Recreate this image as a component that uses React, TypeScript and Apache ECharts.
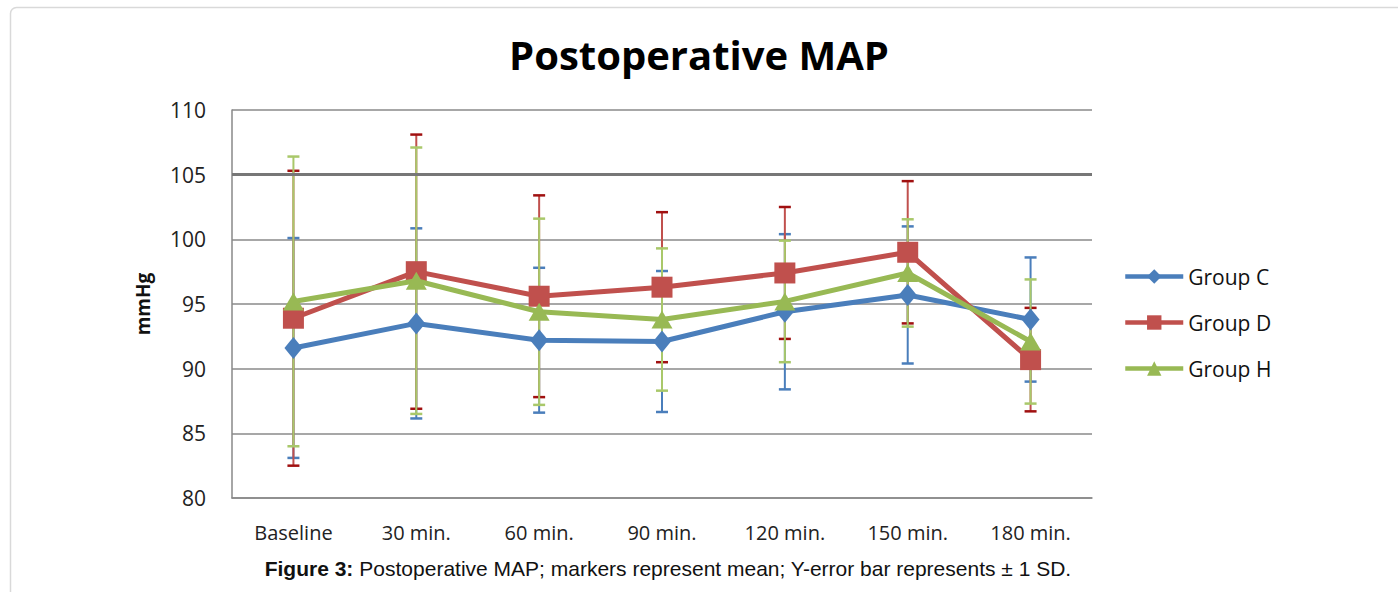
import React, { useEffect, useRef } from "react";
import * as echarts from "echarts";

const categories = ["Baseline", "30 min.", "60 min.", "90 min.", "120 min.", "150 min.", "180 min."];
const yTicks = { min: 80, max: 110, interval: 5 };

const groupNames = ["Group C", "Group D", "Group H"];
const groupC = [91.6, 93.5, 92.2, 92.1, 94.4, 95.7, 93.8];
const groupD = [93.9, 97.5, 95.6, 96.3, 97.4, 99.0, 90.7];
const groupH = [95.2, 96.8, 94.4, 93.8, 95.2, 97.4, 92.1];

const sdC = [8.5, 7.35, 5.6, 5.45, 6.0, 5.3, 4.8];
const sdD = [11.4, 10.6, 7.8, 5.8, 5.1, 5.5, 4.0];
const sdH = [11.2, 10.3, 7.2, 5.5, 4.7, 4.15, 4.8];

const captionBold = "Figure 3:";
const captionText = " Postoperative MAP; markers represent mean; Y-error bar represents ± 1 SD.";

const FONT = "'Open Sans', 'Noto Sans', sans-serif";

function errData(mean: number[], sd: number[]) {
  return mean.map((m, i) => [i, m - sd[i], m + sd[i]]);
}

function errSeries(name: string, mean: number[], sd: number[], color: string, capColor: string, z: number) {
  return {
    name,
    type: "custom",
    z,
    silent: true,
    encode: { x: 0, y: [1, 2] },
    data: errData(mean, sd),
    renderItem: (params: any, api: any) => {
      const x = api.value(0);
      const top = api.coord([x, api.value(2)]);
      const bot = api.coord([x, api.value(1)]);
      const hw = 6;
      return {
        type: "group",
        children: [
          { type: "line", shape: { x1: top[0], y1: top[1], x2: bot[0], y2: bot[1] }, style: { stroke: color, lineWidth: 2 } },
          { type: "line", shape: { x1: top[0] - hw, y1: top[1], x2: top[0] + hw, y2: top[1] }, style: { stroke: capColor, lineWidth: 2.5 } },
          { type: "line", shape: { x1: bot[0] - hw, y1: bot[1], x2: bot[0] + hw, y2: bot[1] }, style: { stroke: capColor, lineWidth: 2.5 } },
        ],
      };
    },
  };
}

export default function App() {
  const ref = useRef<HTMLDivElement>(null);
  useEffect(() => {
    if (!ref.current) return;
    const chart = echarts.init(ref.current, undefined, { renderer: "svg" });
    const blue = "#4A7EBB";
    const red = "#C0504D";
    const green = "#98B954";
    chart.setOption({
      animation: false,
      backgroundColor: "#ffffff",
      title: {
        text: "Postoperative MAP",
        left: "center",
        top: 29,
        textStyle: { fontFamily: FONT, fontWeight: "bold", fontSize: 40, color: "#000" },
      },
      legend: {
        data: groupNames,
        orient: "vertical",
        left: 1118,
        top: 261,
        itemGap: 25,
        itemWidth: 58,
        itemHeight: 18,
        lineStyle: { width: 4.5 },
        textStyle: { fontFamily: FONT, fontSize: 21, color: "#111" },
      },
      grid: { left: 232, right: 306, top: 110, bottom: 94, containLabel: false },
      xAxis: {
        type: "category",
        data: categories,
        boundaryGap: true,
        axisLine: { show: true, lineStyle: { color: "#888", width: 1.5 } },
        axisTick: { show: false },
        axisLabel: { fontFamily: FONT, fontSize: 20, color: "#222", margin: 24 },
      },
      yAxis: {
        type: "value",
        min: yTicks.min,
        max: yTicks.max,
        interval: yTicks.interval,
        name: "mmHg",
        nameLocation: "middle",
        nameGap: 80,
        nameTextStyle: { fontFamily: FONT, fontWeight: "bold", fontSize: 19, color: "#111" },
        axisLine: { show: true, lineStyle: { color: "#888", width: 1.5 } },
        axisTick: { show: false },
        axisLabel: { fontFamily: FONT, fontSize: 21, color: "#222", margin: 26 },
        splitLine: { show: true, lineStyle: { color: "#8a8a8a", width: 1.5 } },
      },
      graphic: [
        {
          type: "rect",
          shape: { x: 10.5, y: 7.5, width: 1420, height: 620, r: 6 },
          style: { fill: "none", stroke: "#d9d9d9", lineWidth: 1.5 },
          silent: true,
        },
        {
          type: "text",
          x: 668,
          y: 568,
          style: {
            text: "{b|" + captionBold + "}" + captionText,
            align: "center",
            verticalAlign: "middle",
            fontFamily: "'Liberation Sans', Arial, sans-serif",
            fontSize: 21,
            fill: "#111",
            rich: {
              b: { fontFamily: "'Liberation Sans', Arial, sans-serif", fontWeight: "bold", fontSize: 21, fill: "#111" },
            },
          },
        },
      ],
      series: [
        errSeries("errC", groupC, sdC, blue, blue, 1),
        errSeries("errD", groupD, sdD, red, "#A01010", 2),
        errSeries("errH", groupH, sdH, "#A9C86A", "#A9C86A", 3),
        {
          name: "Group C",
          type: "line",
          data: groupC,
          z: 4,
          color: blue,
          lineStyle: { color: blue, width: 5 },
          itemStyle: { color: blue },
          symbol: "diamond",
          symbolSize: [18, 22],
          markLine: {
            silent: true,
            symbol: "none",
            label: { show: false },
            lineStyle: { color: "#777", width: 3, type: "solid" },
            data: [{ yAxis: 105 }],
          },
        },
        {
          name: "Group D",
          type: "line",
          data: groupD,
          z: 5,
          color: red,
          lineStyle: { color: red, width: 5 },
          itemStyle: { color: red },
          symbol: "rect",
          symbolSize: 21,
        },
        {
          name: "Group H",
          type: "line",
          data: groupH,
          z: 6,
          color: green,
          lineStyle: { color: green, width: 5 },
          itemStyle: { color: green },
          symbol: "triangle",
          symbolSize: [21, 18],
        },
      ],
    });
    return () => chart.dispose();
  }, []);
  return <div ref={ref} style={{ position: "absolute", left: 0, top: 0, width: 1398, height: 592 }} />;
}
